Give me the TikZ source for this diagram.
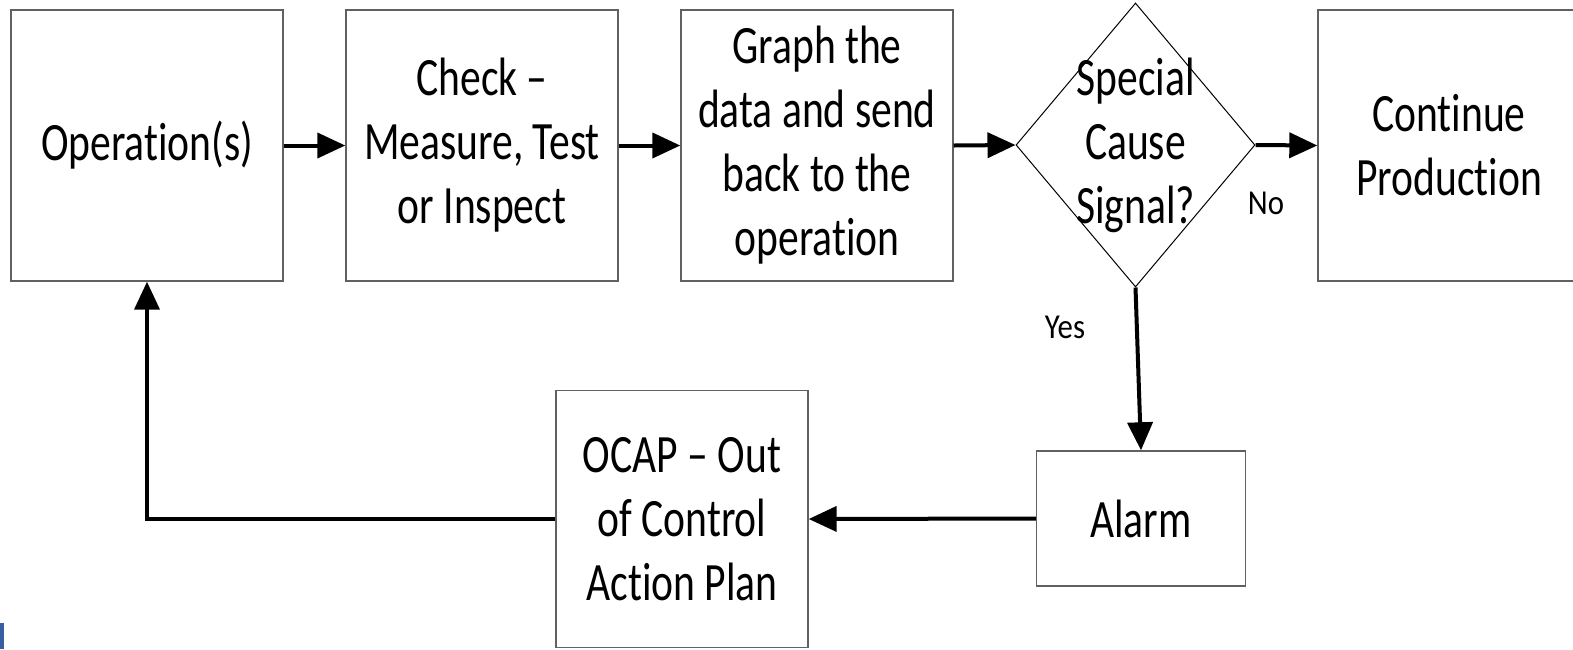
\documentclass[tikz,border=0pt]{standalone}
\usepackage{fontspec}
\setmainfont{Carlito}[FakeStretch=0.77,Ligatures=NoCommon]
\newfontfamily\lblfont{Carlito}[FakeStretch=0.88,Ligatures=NoCommon]
\usetikzlibrary{arrows.meta,shapes.geometric}
\definecolor{markblue}{RGB}{58,95,160}
\begin{document}
\begin{tikzpicture}[x=1pt,y=-1pt,
  txt/.style={align=center,font=\fontsize{54}{64}\selectfont},
  box/.style={txt,draw=black!62,line width=1.4pt,inner sep=0pt},
  dia/.style={diamond,draw=black,line width=1pt,inner sep=0pt,minimum width=239pt,minimum height=284pt},
  arr/.style={line width=4pt,-{Triangle[length=28pt,width=25pt]}},
  lbl/.style={font=\lblfont\fontsize{35}{40}\selectfont}]
\useasboundingbox (0,0) rectangle (1573,649);
\clip (0,0) rectangle (1573,649);
\node[box,minimum width=272pt,minimum height=271pt] (op) at (147,145.5) {Operation(s)};
\node[box,minimum width=272pt,minimum height=271pt] (chk) at (482,145.5) {Check –\\Measure, Test\\or Inspect};
\node[box,minimum width=272pt,minimum height=271pt] (gr) at (817,145.5) {Graph the\\data and send\\back to the\\operation};
\node[dia,label={[txt]center:Special\\Cause\\Signal?}] (d) at (1135.5,145) {};
\node[box,minimum width=262pt,minimum height=271pt] (cont) at (1449,145.5) {Continue\\Production};
\node[box,minimum width=209pt,minimum height=135pt] (al) at (1141,518.5) {Alarm};
\node[box,minimum width=252pt,minimum height=257pt] (ocap) at (682,519) {OCAP – Out\\of Control\\Action Plan};
\node[lbl] (no) at (1266,203) {No};
\node[lbl] (yes) at (1065,327) {Yes};
\draw[arr] (op.east) -- (chk.west);
\draw[arr] (chk.east) -- (gr.west);
\draw[arr] (gr.east) -- (d.west);
\draw[arr] (d.east) -- (cont.west);
\draw[arr] (d.south) -- (al.north);
\draw[arr] (al.west) -- (ocap.east);
\draw[arr] (ocap.west) -| (op.south);
\fill[markblue] (0,623) rectangle (4,649);
\end{tikzpicture}
\end{document}
